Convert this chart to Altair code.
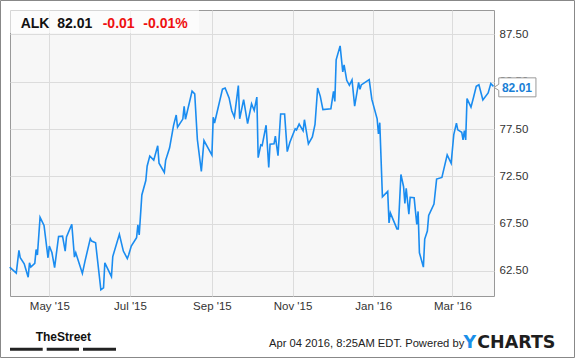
import altair as alt
import pandas as pd

# ---------------- data ----------------
ticker = "ALK"
last_price = "82.01"
change = "-0.01"
change_pct = "-0.01%"
timestamp_text = "Apr 04 2016, 8:25AM EDT. Powered by"
brand_left = "TheStreet"
brand_y = "Y"
brand_rest = "CHARTS"

dates = [
    "2015-04-01", "2015-04-06", "2015-04-08", "2015-04-09", "2015-04-12", "2015-04-15", "2015-04-16", "2015-04-17", "2015-04-20", "2015-04-21",
    "2015-04-22", "2015-04-24", "2015-04-27", "2015-04-30", "2015-05-01", "2015-05-03", "2015-05-05", "2015-05-08", "2015-05-11", "2015-05-13",
    "2015-05-14", "2015-05-18", "2015-05-20", "2015-05-21", "2015-05-26", "2015-05-28", "2015-06-01", "2015-06-02", "2015-06-05", "2015-06-09",
    "2015-06-11", "2015-06-12", "2015-06-17", "2015-06-18", "2015-06-23", "2015-06-26", "2015-06-29", "2015-06-30", "2015-07-02", "2015-07-06",
    "2015-07-07", "2015-07-08", "2015-07-10", "2015-07-13", "2015-07-14", "2015-07-16", "2015-07-19", "2015-07-22", "2015-07-23", "2015-07-27",
    "2015-07-28", "2015-07-31", "2015-08-03", "2015-08-05", "2015-08-06", "2015-08-10", "2015-08-11", "2015-08-12", "2015-08-17", "2015-08-19",
    "2015-08-21", "2015-08-24", "2015-08-26", "2015-09-01", "2015-09-02", "2015-09-03", "2015-09-09", "2015-09-11", "2015-09-14", "2015-09-16",
    "2015-09-18", "2015-09-21", "2015-09-22", "2015-09-25", "2015-09-28", "2015-10-01", "2015-10-03", "2015-10-05", "2015-10-06", "2015-10-08",
    "2015-10-09", "2015-10-12", "2015-10-14", "2015-10-15", "2015-10-18", "2015-10-19", "2015-10-21", "2015-10-23", "2015-10-26", "2015-10-28",
    "2015-10-30", "2015-11-03", "2015-11-04", "2015-11-06", "2015-11-09", "2015-11-10", "2015-11-13", "2015-11-16", "2015-11-18", "2015-11-20",
    "2015-11-22", "2015-11-24", "2015-11-30", "2015-12-02", "2015-12-03", "2015-12-04", "2015-12-07", "2015-12-09", "2015-12-10", "2015-12-12",
    "2015-12-14", "2015-12-16", "2015-12-18", "2015-12-21", "2015-12-22", "2015-12-23", "2015-12-29", "2015-12-31", "2016-01-04", "2016-01-05",
    "2016-01-06", "2016-01-08", "2016-01-12", "2016-01-13", "2016-01-14", "2016-01-19", "2016-01-20", "2016-01-22", "2016-01-24", "2016-01-25",
    "2016-01-26", "2016-01-28", "2016-01-29", "2016-02-01", "2016-02-03", "2016-02-04", "2016-02-05", "2016-02-08", "2016-02-09", "2016-02-11",
    "2016-02-12", "2016-02-16", "2016-02-18", "2016-02-22", "2016-02-26", "2016-02-29", "2016-03-02", "2016-03-04", "2016-03-05", "2016-03-08",
    "2016-03-09", "2016-03-10", "2016-03-11", "2016-03-12", "2016-03-15", "2016-03-17", "2016-03-19", "2016-03-21", "2016-03-24", "2016-03-28",
    "2016-03-30", "2016-04-01",
]

prices = [
    62.90, 62.27, 64.68, 63.89, 63.25, 61.84, 63.36, 62.90, 63.29, 64.76,
    64.18, 68.16, 67.31, 63.89, 65.13, 64.42, 62.85, 66.14, 66.17, 64.60,
    66.09, 67.44, 63.96, 64.42, 62.24, 63.54, 65.91, 65.66, 65.48, 60.51,
    60.71, 63.36, 61.89, 64.02, 66.37, 64.60, 63.81, 64.18, 65.13, 66.01,
    67.36, 66.30, 70.53, 72.06, 73.57, 74.65, 74.21, 75.73, 73.89, 72.91,
    74.19, 75.51, 77.89, 78.98, 77.69, 78.55, 79.91, 78.53, 81.50, 81.22,
    76.39, 73.02, 76.28, 74.74, 78.75, 78.14, 81.71, 81.83, 80.79, 79.43,
    78.75, 82.09, 78.58, 80.61, 78.08, 80.17, 79.46, 80.88, 74.47, 75.82,
    75.75, 77.90, 73.44, 75.89, 75.93, 76.76, 74.69, 79.08, 79.08, 75.11,
    76.10, 77.52, 77.41, 78.02, 77.31, 78.48, 75.93, 76.67, 77.98, 81.83,
    80.95, 79.55, 79.64, 81.48, 80.42, 84.82, 86.29, 83.53, 84.29, 82.65,
    82.12, 82.69, 79.91, 82.44, 81.69, 82.16, 82.72, 80.63, 78.58, 76.99,
    78.17, 70.33, 70.90, 67.57, 68.64, 66.94, 66.94, 72.70, 71.40, 69.64,
    71.24, 68.50, 70.28, 70.23, 67.41, 68.79, 64.42, 62.90, 65.87, 66.72,
    68.37, 69.56, 72.21, 72.38, 74.76, 73.87, 76.92, 78.12, 77.41, 77.16,
    76.35, 77.34, 76.35, 80.71, 79.81, 80.88, 82.01, 82.17, 80.58, 81.32,
    82.30, 82.01,
]

y_ticks = [62.5, 67.5, 72.5, 77.5, 82.5, 87.5]
x_tick_dates = [(2015, 5), (2015, 7), (2015, 9), (2015, 11), (2016, 1), (2016, 3)]
y_domain = [59.85, 90.08]

# ---------------- styling ----------------
FONT = "Liberation Sans, Arial, sans-serif"
LINE_BLUE = "#1a8cf0"
LABEL_BLUE = "#1a7fd6"
RED = "#ee1111"

df = pd.DataFrame({"date": dates, "price": prices})
last_df = df.tail(1).assign(label=last_price)

x_domain = [
    alt.DateTime(year=2015, month=4, date=1, hours=6, utc=True),
    alt.DateTime(year=2016, month=4, date=1, hours=10, utc=True),
]
x_values = [alt.DateTime(year=y, month=m, date=1, utc=True) for y, m in x_tick_dates]

x_enc = alt.X(
    "date:T",
    title=None,
    scale=alt.Scale(type="utc", domain=x_domain),
    axis=alt.Axis(
        values=x_values, format="%b '%y", grid=True, gridColor="#dcdcdc", gridWidth=1,
        domain=False, ticks=False, labelPadding=4, labelFont=FONT, labelFontSize=11.5,
        labelColor="#333333", labelAngle=0, labelOverlap=False, labelFlush=False,
    ),
)
y_enc = alt.Y(
    "price:Q",
    title=None,
    scale=alt.Scale(domain=y_domain, nice=False, zero=False),
    axis=alt.Axis(
        orient="right", values=y_ticks, format=".2f", grid=True, gridColor="#dcdcdc",
        gridWidth=1, domain=False, ticks=False, labelPadding=5, labelFont=FONT,
        labelFontSize=11.5, labelColor="#333333",
    ),
)

line = alt.Chart(df).mark_line(color=LINE_BLUE, strokeWidth=1.6).encode(x=x_enc, y=y_enc)

CALLOUT = "M-1,0L-0.77,-0.143L-0.77,-0.452L1,-0.452L1,0.452L-0.77,0.452L-0.77,0.143Z"
callout = alt.Chart(last_df).mark_point(
    shape=CALLOUT, size=1764, filled=True, fill="white", stroke="#999999",
    strokeWidth=1, opacity=1, xOffset=21.5, yOffset=1,
).encode(x="date:T", y="price:Q")
callout_text = alt.Chart(last_df).mark_text(
    align="left", baseline="alphabetic", dx=8.5, dy=6, font=FONT, fontSize=12,
    fontWeight="bold", color=LABEL_BLUE,
).encode(x="date:T", y="price:Q", text="label:N")


def one(text):
    return pd.DataFrame({"t": [text]})


def label(text, x, y, size, color, weight="normal", font=FONT, align="left"):
    return alt.Chart(one(text)).mark_text(
        align=align, baseline="alphabetic", font=font, fontSize=size,
        fontWeight=weight, color=color,
    ).encode(x=alt.value(x), y=alt.value(y), text="t:N")


def box(x, x2, y, y2, **kw):
    return alt.Chart(one("")).mark_rect(**kw).encode(
        x=alt.value(x), x2=alt.value(x2), y=alt.value(y), y2=alt.value(y2)
    )


header_bg = box(0, 189, 0, 23, fill="white", opacity=0.6)
header = [
    label(ticker, 10.7, 18.3, 14, "#111111", "bold"),
    label(last_price, 47.3, 18.3, 14, "#111111", "bold"),
    label(change, 92.7, 18.3, 14, RED, "bold"),
    label(change_pct, 133.3, 18.3, 14, RED, "bold"),
]

footer = [
    label(brand_left, 53.3, 330.7, 12, "#111111", "bold", align="center"),
    box(0, 32.7, 337.7, 340.7, fill="#222222"),
    box(36.7, 69, 337.7, 340.7, fill="#222222"),
    box(73, 106, 337.7, 340.7, fill="#222222"),
    label(timestamp_text, 259, 336.7, 11.2, "#222222"),
    label(brand_y, 453.5, 338, 17.5, "#1a8fe8", "bold", font="DejaVu Sans, sans-serif"),
    label(brand_rest, 467.2, 338, 17.5, "#1e1e1e", "bold", font="DejaVu Sans, sans-serif"),
]

frame = box(-9.5, 564.5, -9.5, 347.5, fillOpacity=0, stroke="#888888", strokeWidth=1)

chart = alt.layer(
    line, header_bg, *header, callout, callout_text, *footer, frame
).properties(
    width=484,
    height=286,
    padding={"left": 10, "top": 10, "right": 81, "bottom": 62},
    autosize=alt.AutoSizeParams(type="none"),
    background="white",
).configure_view(
    fill="#f7f7f7", stroke="#999999", strokeWidth=1
)

chart.save("out.html", embed_options={"renderer": "svg", "actions": False})
